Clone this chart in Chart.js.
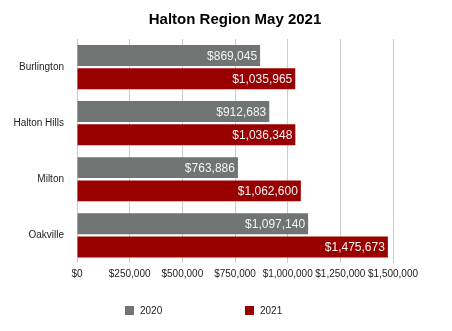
<!DOCTYPE html>
<html>
<head>
<meta charset="utf-8">
<script src="https://cdn.jsdelivr.net/npm/chart.js@4.4.1/dist/chart.umd.min.js"></script>
<style>
  html, body { margin: 0; padding: 0; background: #fff; }
  #wrap { width: 452px; height: 331px; position: relative; }
</style>
</head>
<body>
<div id="wrap"><canvas id="chart"></canvas></div>
<script>
var towns = ['Burlington', 'Halton Hills', 'Milton', 'Oakville'];
var prices2020 = [869045, 912683, 763886, 1097140];
var prices2021 = [1035965, 1036348, 1062600, 1475673];
var xTicks = [0, 250000, 500000, 750000, 1000000, 1250000, 1500000];

var FONT = 'Arial, "Liberation Sans", sans-serif';
var GREY = '#707573';
var RED = '#990000';

function money(v) {
  return '$' + Number(v).toLocaleString('en-US');
}

// value text inside the end of each bar, title over the plot, legend at the bottom
var extras = {
  id: 'extras',
  afterDatasetsDraw: function (chart) {
    var ctx = chart.ctx;
    ctx.save();
    ctx.font = '12px ' + FONT;
    ctx.fillStyle = '#f4f4f4';
    ctx.textAlign = 'right';
    ctx.textBaseline = 'middle';
    chart.data.datasets.forEach(function (ds, i) {
      chart.getDatasetMeta(i).data.forEach(function (bar, j) {
        ctx.fillText(money(ds.data[j]), bar.x - 3, bar.y + 1);
      });
    });
    ctx.restore();
  },
  afterDraw: function (chart) {
    var ctx = chart.ctx;
    var area = chart.chartArea;
    ctx.save();
    ctx.font = 'bold 15px ' + FONT;
    ctx.fillStyle = '#000';
    ctx.textAlign = 'center';
    ctx.textBaseline = 'middle';
    ctx.fillText('Halton Region May 2021', (area.left + area.right) / 2, 20);

    ctx.font = '10px ' + FONT;
    ctx.textAlign = 'left';
    var lx = [125, 245];
    chart.data.datasets.forEach(function (ds, i) {
      ctx.fillStyle = ds.backgroundColor;
      ctx.fillRect(lx[i], 306, 9, 9);
      ctx.fillStyle = '#222';
      ctx.fillText(ds.label, lx[i] + 15, 311);
    });
    ctx.restore();
  }
};

new Chart(document.getElementById('chart'), {
  type: 'bar',
  data: {
    labels: towns,
    datasets: [
      { label: '2020', data: prices2020, backgroundColor: GREY },
      { label: '2021', data: prices2021, backgroundColor: RED }
    ]
  },
  options: {
    indexAxis: 'y',
    responsive: true,
    maintainAspectRatio: false,
    animation: false,
    categoryPercentage: 0.83,
    barPercentage: 0.9,
    layout: { padding: { top: 39, right: 59, bottom: 0, left: 0 } },
    plugins: {
      legend: { display: false },
      title: { display: false },
      tooltip: { enabled: false }
    },
    scales: {
      x: {
        min: 0,
        max: 1500000,
        afterBuildTicks: function (s) {
          s.ticks = xTicks.map(function (v) { return { value: v }; });
        },
        afterFit: function (s) { s.height = 67.6; },
        grid: { color: '#cccccc', drawTicks: false },
        border: { display: false },
        ticks: {
          color: '#222',
          font: { family: FONT, size: 10 },
          padding: 5,
          maxRotation: 0,
          autoSkip: false,
          callback: function (v) { return money(v); }
        }
      },
      y: {
        afterFit: function (s) { s.width = 77; },
        grid: { display: false, drawTicks: false, tickLength: 0 },
        border: { display: false },
        ticks: {
          color: '#222',
          font: { family: FONT, size: 10 },
          padding: 13
        }
      }
    }
  },
  plugins: [extras]
});
</script>
</body>
</html>
